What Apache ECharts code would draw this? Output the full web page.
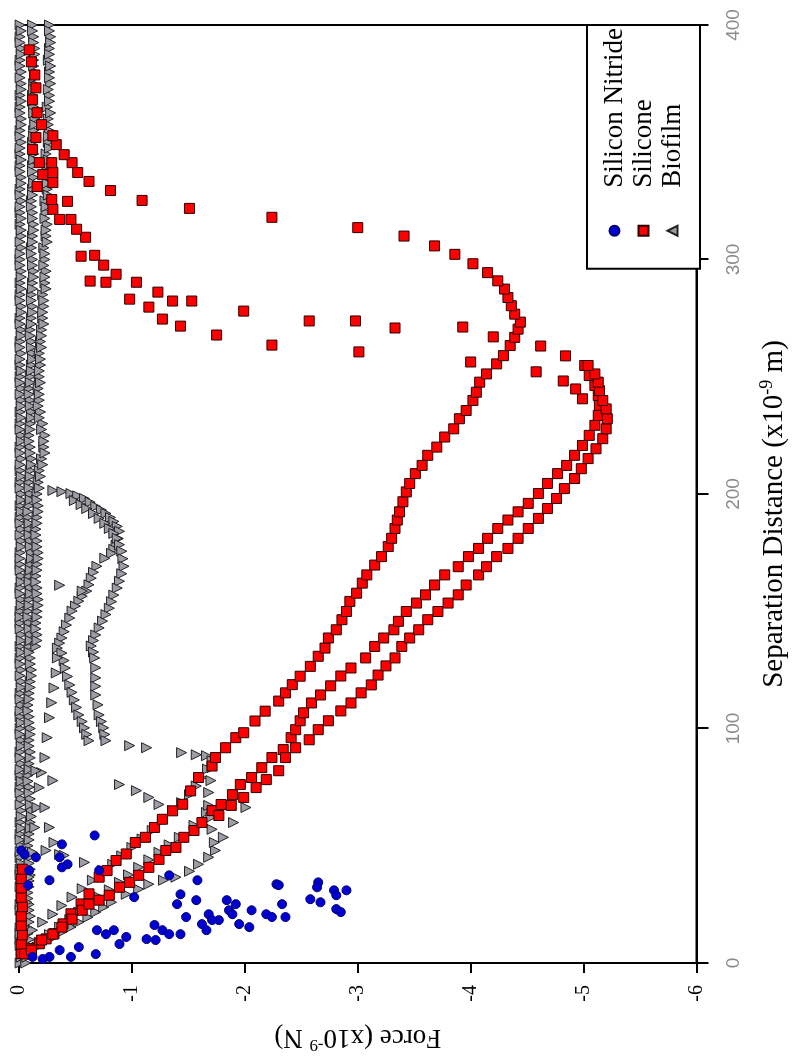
<!DOCTYPE html>
<html>
<head>
<meta charset="utf-8">
<script src="https://cdn.jsdelivr.net/npm/echarts/dist/echarts.min.js"></script>
<style>
html,body{margin:0;padding:0;width:794px;height:1061px;overflow:hidden;background:#fff;}
#wrap{position:absolute;left:0;top:0;width:1061px;height:794px;transform-origin:0 0;transform:translateY(1061px) rotate(-90deg);}
#chart{width:1061px;height:794px;}
</style>
</head>
<body>
<div id="wrap"><div id="chart"></div></div>
<script>
// ---------- axis ticks ----------
const distanceTicks = [0, 100, 200, 300, 400];
const forceTicks = [-6, -5, -4, -3, -2, -1, 0];
const seriesNames = ['Silicon Nitride', 'Silicone', 'Biofilm'];

// ---------- Silicon Nitride: [distance (nm), force (nN)] ----------
const nitridePoints = [
  [48.0,-0.02],[46.3,-0.05],[45.1,-0.15],[45.1,-0.36],[50.6,-0.38],[42.1,-0.43],[40.8,-0.38],[39.5,-0.09],
  [33.2,-0.08],[35.3,-0.27],[39.5,-0.71],[54.4,-0.67],[37.4,-1.33],[35.3,-1.58],[29.3,-1.43],[25.1,-1.40],
  [26.8,-1.57],[19.6,-1.48],[12.3,-1.43],[14.0,-1.27],[16.2,-1.20],[10.2,-1.13],[9.8,-1.21],[12.3,-1.33],
  [16.6,-1.62],[20.8,-1.68],[18.3,-1.77],[26.8,-1.84],[22.5,-1.86],[25.1,-1.92],[16.6,-1.95],[15.3,-2.04],
  [22.5,-2.06],[20.8,-2.19],[33.6,-2.28],[25.1,-2.33],[19.6,-2.36],[19.6,-2.24],[11.1,-0.95],[14.0,-0.84],
  [8.1,-0.89],[12.3,-0.77],[14.0,-0.69],[3.8,-0.68],[6.8,-0.53],[2.6,-0.46],[5.5,-0.36],[2.6,-0.27],
  [1.7,-0.21],[2.6,-0.12],[14.0,-1.66],[18.3,-1.71],[20.8,-1.89],[33.2,-2.30],[34.4,-2.65],[32.3,-2.64],
  [27.2,-2.58],[25.9,-2.67],[31.0,-2.79],[28.9,-2.81],[31.0,-2.90],[23.0,-2.81],[21.7,-2.85],[28.1,-1.02]
];

// ---------- Silicone ----------
const siliconeApproachInner = [
  [3.9,-0.05],[6.1,-0.11],[8.2,-0.18],[10.3,-0.24],[12.5,-0.31],[16.7,-0.39],[21.0,-0.46],[25.2,-0.55],
  [29.5,-0.62],[36.6,-0.71],[39.4,-0.78],[43.7,-0.86],[46.5,-0.95],[51.4,-1.03],[53.6,-1.12],[57.8,-1.20],
  [61.3,-1.27],[64.9,-1.36],[67.7,-1.45],[73.4,-1.52],[79.1,-1.59],[84.0,-1.71],[87.6,-1.74],[91.8,-1.83],
  [96.1,-1.92],[98.2,-1.99],[103.2,-2.09],[107.4,-2.18],[111.7,-2.30],[115.2,-2.36],[118.7,-2.42],[122.3,-2.49],
  [126.5,-2.58],[130.8,-2.65],[134.3,-2.71],[138.6,-2.74],[142.1,-2.81],[146.4,-2.86],[149.9,-2.90],[154.2,-2.93],
  [157.7,-2.99],[162.0,-3.04],[165.5,-3.08],[169.7,-3.15],[173.3,-3.21],[177.6,-3.27],[181.1,-3.30],[185.3,-3.33],
  [188.9,-3.35],[192.4,-3.37],[196.7,-3.40],[200.9,-3.43],[204.5,-3.46],[208.7,-3.51],[212.2,-3.57],[216.5,-3.62],
  [220.0,-3.70],[224.3,-3.77],[227.8,-3.85],[232.1,-3.90],[235.6,-3.96],[239.9,-4.02],[243.4,-4.05],[247.7,-4.08],
  [251.2,-4.14],[255.5,-4.23],[259.0,-4.29],[263.3,-4.35],[266.8,-4.39],[270.3,-4.42],[273.3,-4.44]
];
const siliconeRetractInner = [
  [276.7,-4.39],[280.3,-4.36],[283.8,-4.33],[287.4,-4.30],[290.9,-4.24],[294.4,-4.15],[298.2,-4.02],[302.2,-3.86],
  [305.8,-3.68],[310.0,-3.41],[313.6,-3.00],[318.0,-2.24],[321.8,-1.51],[325.2,-1.09],[329.4,-0.81],[333.3,-0.62],
  [337.1,-0.52],[341.3,-0.47],[344.7,-0.40],[349.0,-0.33],[352.8,-0.30]
];
const siliconeApproachOuterA = [
  [5.5,-0.11],[9.8,-0.20],[12.3,-0.30],[15.3,-0.38],[18.7,-0.47],[22.5,-0.56],[25.1,-0.62],[26.8,-0.71],
  [28.9,-0.80],[32.3,-0.89],[34.4,-0.98],[37.4,-1.06],[40.8,-1.15],[44.2,-1.24],[48.0,-1.30],[49.3,-1.39],
  [53.6,-1.46],[56.5,-1.55],[59.9,-1.62],[65.0,-1.71],[67.6,-1.79],[71.8,-1.89],[76.1,-1.96],[79.1,-2.06],
  [83.3,-2.15],[87.6,-2.24],[91.0,-2.34],[96.1,-2.41],[99.5,-2.45],[103.3,-2.49],[106.7,-2.52],[110.9,-2.59],
  [114.3,-2.67],[118.2,-2.76],[122.4,-2.85],[125.8,-2.94],[130.1,-3.07],[135.0,-3.15],[138.6,-3.23],[142.1,-3.32],
  [145.7,-3.36],[149.9,-3.43],[153.5,-3.52],[157.0,-3.60],[161.2,-3.68],[165.5,-3.77],[169.0,-3.89],[173.3,-3.98],
  [176.8,-4.07],[181.1,-4.15],[185.3,-4.24],[188.9,-4.33],[192.4,-4.42],[196.0,-4.51],[200.2,-4.60],[204.5,-4.68],
  [208.7,-4.77],[212.2,-4.85],[216.5,-4.92],[220.7,-4.99],[225.0,-5.05],[229.3,-5.10],[233.5,-5.13],[237.8,-5.14],
  [242.0,-5.13],[246.3,-5.10],[250.5,-5.05],[254.8,-5.01]
];
const siliconeApproachOuterB = [
  [62.9,-1.77],[67.2,-1.88],[70.6,-1.99],[74.8,-2.10],[78.2,-2.19],[82.0,-2.30],[87.6,-2.36],[91.8,-2.45],
  [95.2,-2.57],[99.5,-2.65],[103.3,-2.74],[107.5,-2.85],[110.9,-2.94],[115.2,-3.03],[118.6,-3.12],[122.8,-3.18],
  [126.7,-3.25],[130.1,-3.33],[135.0,-3.39],[138.6,-3.46],[142.1,-3.54],[146.4,-3.62],[149.9,-3.71],[153.5,-3.80],
  [157.0,-3.89],[161.2,-3.96],[165.5,-4.07],[169.0,-4.14],[173.3,-4.23],[176.8,-4.33],[181.1,-4.42],[185.3,-4.51],
  [189.6,-4.60],[193.8,-4.68],[198.1,-4.76],[202.3,-4.83],[206.6,-4.92],[210.8,-4.98],[215.1,-5.04],[219.3,-5.11],
  [223.6,-5.17],[227.8,-5.20],[232.1,-5.21],[236.3,-5.20],[239.9,-5.17],[244.1,-5.14],[247.7,-5.13],[251.2,-5.10],
  [254.8,-5.04]
];
const siliconeRetractOuterA = [
  [258.9,-4.84],[263.1,-4.62],[267.0,-4.20],[271.2,-3.93],[270.8,-3.33],[273.8,-2.98],[273.8,-2.57],[278.0,-1.99],
  [282.3,-1.53],[282.3,-1.36],[286.1,-1.23],[290.3,-1.04],[293.7,-0.86],[297.6,-0.75],[301.8,-0.67],[309.5,-0.59],
  [312.9,-0.51],[317.1,-0.36],[321.4,-0.30],[325.6,-0.29],[332.8,-0.30],[337.1,-0.30],[341.3,-0.29]
];
const siliconeRetractOuterB = [
  [240.6,-4.99],[244.8,-4.93],[248.2,-4.82],[252.1,-4.58],[256.3,-4.00],[260.6,-3.01],[263.5,-2.24],[267.8,-1.75],
  [271.6,-1.43],[274.6,-1.27],[279.7,-1.15],[283.1,-0.98],[290.3,-0.77],[290.8,-0.63],[301.4,-0.55],[317.1,-0.46],
  [324.8,-0.43]
];
const siliconeNearZero = [
  [4,-0.02],[8,-0.02],[12,-0.03],[16,-0.02],[20,-0.02],[24,-0.03],[28,-0.02],[32,-0.02],[36,-0.02],[40,-0.03],
  [331.1,-0.16],[336.2,-0.21],[341.3,-0.18],[346.9,-0.12],[352.0,-0.15],[357.5,-0.20],[362.6,-0.16],[368.1,-0.12],
  [373.2,-0.15],[378.7,-0.14],[384.3,-0.11],[389.4,-0.09]
];

// ---------- Biofilm ----------
const bandDist = [0,5,10,15,20,25,30,35,40,45,50,55,60,65,70,75,80,85,90,95,100,105,110,115,120,125,130,135,140,145,
  150,155,160,165,170,175,180,185,190,195,200,205,210,215,220,225,230,235,240,245,250,255,260,265,270,275,280,285,290,295,
  300,305,310,315,320,325,330,335,340,345,350,355,360,365,370,375,380,385,390,395,400];
const bandAForce = [-0.01,-0.02,-0.01,-0.01,-0.02,-0.01,-0.02,-0.02,-0.01,-0.01,
  -0.02,-0.01,-0.01,-0.02,-0.02,-0.01,-0.01,-0.02,-0.01,-0.02,
  -0.01,-0.01,-0.02,-0.01,-0.02,-0.02,-0.01,-0.01,-0.02,-0.01,
  -0.01,-0.02,-0.01,-0.02,-0.01,-0.01,-0.02,-0.02,-0.01,-0.01,
  -0.02,-0.01,-0.01,-0.02,-0.01,-0.02,-0.01,-0.01,-0.02,-0.02,
  -0.01,-0.01,-0.02,-0.01,-0.02,-0.01,-0.02,-0.01,-0.01,-0.02,
  -0.01,-0.02,-0.02,-0.01,-0.01,-0.02,-0.01,-0.02,-0.01,-0.01,
  -0.02,-0.01,-0.02,-0.01,-0.01,-0.02,-0.02,-0.01,-0.02,-0.01,-0.01];
const bandBForce = [-0.06,-0.08,-0.09,-0.08,-0.10,-0.09,-0.08,-0.09,-0.10,-0.09,
  -0.08,-0.09,-0.10,-0.11,-0.10,-0.09,-0.08,-0.09,-0.10,-0.09,
  -0.10,-0.09,-0.08,-0.09,-0.10,-0.11,-0.10,-0.09,-0.10,-0.09,
  -0.08,-0.09,-0.10,-0.09,-0.10,-0.11,-0.10,-0.09,-0.08,-0.09,
  -0.10,-0.09,-0.10,-0.11,-0.10,-0.09,-0.10,-0.11,-0.10,-0.09,
  -0.10,-0.11,-0.12,-0.11,-0.10,-0.11,-0.12,-0.11,-0.12,-0.13,
  -0.12,-0.11,-0.12,-0.13,-0.12,-0.11,-0.12,-0.13,-0.12,-0.13,
  -0.12,-0.13,-0.14,-0.13,-0.12,-0.13,-0.14,-0.13,-0.14,-0.13,-0.12];
const bandMidDist = [2.5,7.5,12.5,17.5,22.5,27.5,32.5,37.5,42.5,47.5,52.5,57.5,62.5,67.5,72.5,77.5,82.5,87.5,92.5,97.5,
  102.5,107.5,112.5,117.5,122.5,127.5,132.5,137.5,142.5,147.5,152.5,157.5,162.5,167.5,172.5,177.5,182.5,187.5,192.5,197.5,
  202.5,207.5,212.5,217.5,222.5,227.5,232.5,237.5,242.5,247.5,252.5,257.5,262.5,267.5,272.5,277.5,282.5,287.5,292.5,297.5,
  302.5,307.5,312.5,317.5,322.5,327.5,332.5,337.5,342.5,347.5,352.5,357.5,362.5,367.5,372.5,377.5,382.5,387.5,392.5,397.5];
const bandAMidForce = [-0.02,-0.01,-0.01,-0.02,-0.01,-0.02,-0.01,-0.01,-0.02,-0.01,
  -0.01,-0.02,-0.02,-0.01,-0.01,-0.02,-0.01,-0.01,-0.02,-0.01,
  -0.02,-0.01,-0.01,-0.02,-0.01,-0.01,-0.02,-0.02,-0.01,-0.01,
  -0.02,-0.01,-0.02,-0.01,-0.01,-0.02,-0.01,-0.01,-0.02,-0.02,
  -0.01,-0.02,-0.01,-0.01,-0.02,-0.01,-0.02,-0.02,-0.01,-0.01,
  -0.02,-0.01,-0.01,-0.02,-0.01,-0.02,-0.01,-0.02,-0.02,-0.01,
  -0.01,-0.01,-0.02,-0.02,-0.01,-0.01,-0.02,-0.01,-0.02,-0.01,
  -0.01,-0.02,-0.01,-0.02,-0.02,-0.01,-0.01,-0.02,-0.01,-0.02];
const bandBMidForce = [-0.07,-0.09,-0.08,-0.09,-0.09,-0.08,-0.09,-0.10,-0.09,-0.10,
  -0.09,-0.10,-0.11,-0.10,-0.09,-0.08,-0.09,-0.10,-0.09,-0.10,
  -0.09,-0.08,-0.09,-0.10,-0.11,-0.10,-0.09,-0.10,-0.09,-0.08,
  -0.09,-0.10,-0.09,-0.10,-0.11,-0.10,-0.09,-0.09,-0.08,-0.10,
  -0.09,-0.10,-0.11,-0.10,-0.09,-0.10,-0.11,-0.10,-0.09,-0.10,
  -0.11,-0.12,-0.11,-0.10,-0.11,-0.12,-0.11,-0.12,-0.13,-0.12,
  -0.11,-0.12,-0.13,-0.12,-0.11,-0.12,-0.13,-0.12,-0.13,-0.12,
  -0.13,-0.14,-0.13,-0.12,-0.13,-0.14,-0.13,-0.14,-0.13,-0.12];
const bandCDist = [135,140,145,150,155,160,165,170,175,180,185,190,195,200,205,210,215,220,225,230,235,240,245,250,
  255,260,265,270,275,280,285,290,295,300,305,310,315,320,325,330,335,340,345,350,355,360,365,370,375,380,385,390,395,400];
const bandCForce = [-0.15,-0.16,-0.15,-0.16,-0.17,-0.16,-0.15,-0.16,-0.17,-0.16,-0.15,-0.16,-0.17,-0.16,
  -0.17,-0.18,-0.20,-0.22,-0.23,-0.21,-0.19,-0.18,-0.17,-0.18,-0.19,-0.18,-0.19,-0.20,
  -0.21,-0.22,-0.21,-0.23,-0.24,-0.23,-0.22,-0.24,-0.25,-0.24,-0.23,-0.25,-0.26,-0.25,
  -0.24,-0.26,-0.27,-0.26,-0.25,-0.27,-0.28,-0.27,-0.26,-0.27,-0.28,-0.27];
const bandCMidDist = [137.5,142.5,147.5,152.5,157.5,162.5,167.5,172.5,177.5,182.5,187.5,192.5,197.5,202.5,207.5,212.5,
  217.5,222.5,227.5,232.5,237.5,242.5,247.5,252.5,257.5,262.5,267.5,272.5,277.5,282.5,287.5,292.5,297.5,302.5,307.5,
  312.5,317.5,322.5,327.5,332.5,337.5,342.5,347.5,352.5,357.5,362.5,367.5,372.5,377.5,382.5,387.5,392.5,397.5];
const bandCMidForce = [-0.16,-0.15,-0.16,-0.17,-0.16,-0.15,-0.16,-0.17,-0.16,-0.15,-0.16,-0.17,-0.16,
  -0.18,-0.19,-0.21,-0.23,-0.22,-0.20,-0.18,-0.17,-0.18,-0.19,-0.18,-0.19,-0.20,-0.20,
  -0.22,-0.21,-0.22,-0.24,-0.23,-0.22,-0.23,-0.25,-0.24,-0.23,-0.24,-0.26,-0.25,
  -0.25,-0.26,-0.27,-0.26,-0.26,-0.28,-0.27,-0.26,-0.27,-0.28,-0.27,-0.28,-0.27];
const biofilmLoopA = [
  [201.5,-0.30],[201.0,-0.38],[200.2,-0.46],[199.2,-0.52],[198.1,-0.58],[196.5,-0.63],[194.7,-0.68],[193.2,-0.73],
  [191.7,-0.77],[190.0,-0.81],[188.3,-0.84],[186.2,-0.87],[184.1,-0.89],[181.0,-0.88],[178.1,-0.86],[176.4,-0.84],
  [174.7,-0.82],[172.6,-0.76],[169.2,-0.69],[166.6,-0.66],[164.1,-0.64],[161.3,-0.62],[158.6,-0.60],[156.4,-0.56],
  [154.3,-0.53],[152.2,-0.50],[150.1,-0.47],[147.1,-0.45],[144.1,-0.42],[141.3,-0.40],[138.6,-0.38],[136.4,-0.36],
  [134.3,-0.34],[132.2,-0.38],[129.0,-0.40],[125.8,-0.41],[122.2,-0.43],[118.6,-0.45],[115.4,-0.47],[112.2,-0.49],
  [109.0,-0.51],[105.8,-0.53],[103.0,-0.56],[100.3,-0.58],[97.5,-0.60],[94.8,-0.62]
];
const biofilmLoopB = [
  [197.2,-0.49],[195.5,-0.55],[193.8,-0.60],[191.7,-0.66],[189.6,-0.71],[187.5,-0.76],[185.3,-0.80],[183.2,-0.84],
  [181.1,-0.87],[178.4,-0.89],[175.6,-0.91],[172.4,-0.92],[169.2,-0.93],[166.0,-0.91],[162.8,-0.89],[159.9,-0.87],
  [156.9,-0.84],[154.1,-0.82],[151.3,-0.80],[148.6,-0.77],[145.8,-0.74],[142.9,-0.71],[139.9,-0.68],[137.5,-0.66],
  [135.2,-0.64],[132.6,-0.66],[130.1,-0.67],[125.9,-0.68],[121.6,-0.68],[118.0,-0.68],[114.3,-0.68],[110.1,-0.70],
  [105.8,-0.71],[103.0,-0.73],[100.3,-0.75],[97.5,-0.76],[94.8,-0.77]
];
const biofilmJump = [
  [92.7,-0.98],[91.8,-1.13],[89.7,-1.44],[88.8,-1.57],[88.4,-1.66],[161.1,-0.36],[158.6,-0.56],
  [77.8,-0.30],[76.1,-0.89],[73.5,-1.04],[70.6,-1.15],[67.6,-1.24]
];
const biofilmDiagUpper = [
  [14.0,-0.12],[17.4,-0.21],[20.8,-0.30],[24.5,-0.38],[28.1,-0.47],[31.7,-0.56],[35.3,-0.65],[38.7,-0.74],
  [42.1,-0.83],[45.7,-0.91],[49.3,-1.00],[52.9,-1.09],[56.5,-1.18],[60.7,-1.27],[65.0,-1.36],[68.4,-1.44],
  [71.8,-1.51],[75.5,-1.57],[79.1,-1.62],[82.7,-1.67],[86.3,-1.71]
];
const biofilmDiagMiddle = [
  [8.9,-0.18],[12.1,-0.27],[15.3,-0.36],[18.5,-0.45],[21.7,-0.53],[24.9,-0.62],[28.1,-0.71],[31.2,-0.80],
  [34.4,-0.89],[37.6,-0.97],[40.8,-1.06],[44.0,-1.15],[47.2,-1.24],[50.4,-1.33],[53.6,-1.42],[58.7,-1.55],
  [64.2,-1.66]
];
const biofilmDiagLower = [
  [4.7,-0.09],[6.8,-0.16],[8.9,-0.23],[11.0,-0.31],[13.2,-0.38],[15.3,-0.46],[17.4,-0.53],[19.5,-0.61],
  [21.7,-0.68],[23.8,-0.75],[25.9,-0.82],[29.3,-0.95],[31.5,-1.06],[33.6,-1.15],[35.3,-1.28],[36.6,-1.39],
  [39.1,-1.51],[42.1,-1.59],[45.1,-1.68],[48.0,-1.74],[53.6,-1.81],[59.9,-1.90],[66.3,-2.01]
];
const biofilmTurn = [
  [51.4,-1.73],[57.0,-1.71],[62.1,-1.70],[67.2,-1.68],[72.7,-1.68],[77.8,-1.70],[83.3,-1.71]
];
const biofilmUpperLeft = [
  [15.3,-0.05],[25.9,-0.07],[36.6,-0.09],[47.2,-0.12],[57.8,-0.14],[66.3,-0.16],[74.8,-0.18],[81.2,-0.20],
  [87.6,-0.23],[96.1,-0.25],[104.6,-0.27],[111.0,-0.29],[117.3,-0.31],[123.7,-0.33],[130.1,-0.34],
  [82.0,-0.15],[66.3,-0.23],[57.8,-0.27],[51.4,-0.31],[46.3,-0.36],
  [48.0,-0.24],[45.9,-0.40],[42.9,-0.58],[39.5,-0.74]
];

const pairs = (ds, fs) => ds.map((d, i) => [d, fs[i]]);

const nitrideData = nitridePoints;
const siliconeData = [].concat(siliconeNearZero, siliconeApproachInner, siliconeRetractInner,
  siliconeApproachOuterA, siliconeApproachOuterB, siliconeRetractOuterA, siliconeRetractOuterB);
const biofilmData = [].concat(
  pairs(bandDist, bandAForce), pairs(bandMidDist, bandAMidForce),
  pairs(bandDist, bandBForce), pairs(bandMidDist, bandBMidForce),
  pairs(bandCDist, bandCForce), pairs(bandCMidDist, bandCMidForce),
  biofilmLoopA, biofilmLoopB, biofilmJump, biofilmDiagUpper, biofilmDiagMiddle, biofilmDiagLower,
  biofilmTurn, biofilmUpperLeft);

const serif = '"Liberation Serif", "Times New Roman", serif';
const sans = '"Liberation Sans", Arial, sans-serif';

const chart = echarts.init(document.getElementById('chart'), null, {renderer: 'canvas', width: 1061, height: 794});
chart.setOption({
  animation: false,
  backgroundColor: '#fff',
  grid: {left: 95, right: 25, top: 19, bottom: 95, show: true, borderColor: '#000', borderWidth: 2, backgroundColor: 'transparent'},
  xAxis: {
    type: 'value', min: distanceTicks[0], max: distanceTicks[distanceTicks.length - 1], interval: 100,
    position: 'bottom',
    axisLine: {show: true, onZero: false, lineStyle: {color: '#000', width: 2}},
    axisTick: {show: true, inside: false, length: 12, lineStyle: {color: '#000', width: 2}},
    axisLabel: {color: '#8a8a8a', fontFamily: sans, fontSize: 19, margin: 28},
    splitLine: {show: false},
    name: '{a|Separation Distance (x10}{b|-9}{a| m)}',
    nameLocation: 'middle', nameGap: 62,
    nameTextStyle: {
      padding: [0, 40, 0, 0],
      rich: {
        a: {fontFamily: serif, fontSize: 29, color: '#000', lineHeight: 32},
        b: {fontFamily: serif, fontSize: 18, color: '#000', lineHeight: 18, verticalAlign: 'top'}
      }
    }
  },
  yAxis: {
    type: 'value', min: forceTicks[0], max: forceTicks[forceTicks.length - 1], interval: 1,
    axisLine: {show: true, onZero: false, lineStyle: {color: '#000', width: 2}},
    axisTick: {show: true, inside: false, length: 10, lineStyle: {color: '#000', width: 2}},
    axisLabel: {color: '#000', fontFamily: serif, fontSize: 20, margin: 22},
    splitLine: {show: false},
    name: '{a|Force (x10}{b|-9}{a| N)}',
    nameLocation: 'middle', nameGap: 58, nameRotate: 90,
    nameTextStyle: {
      rich: {
        a: {fontFamily: serif, fontSize: 27, color: '#000', lineHeight: 32},
        b: {fontFamily: serif, fontSize: 17, color: '#000', lineHeight: 18, verticalAlign: 'top'}
      }
    }
  },
  legend: {
    data: seriesNames,
    orient: 'vertical', right: 25, bottom: 94,
    backgroundColor: '#fff', borderColor: '#000', borderWidth: 2, borderRadius: 0,
    padding: [14, 3, 14, 32],
    itemWidth: 10, itemHeight: 10, itemGap: 2,
    formatter: name => '{s|}{t|' + name + '}',
    textStyle: {
      rich: {
        s: {width: 33},
        t: {fontFamily: serif, fontSize: 27, color: '#000', lineHeight: 28}
      }
    },
    selectedMode: false,
    z: 10
  },
  series: [
    {
      name: seriesNames[2], type: 'scatter', z: 2, symbol: 'triangle', symbolRotate: 180, symbolSize: 10,
      itemStyle: {color: '#9d9da6', borderColor: '#222', borderWidth: 1, opacity: 1},
      emphasis: {disabled: true}, data: biofilmData
    },
    {
      name: seriesNames[1], type: 'scatter', z: 3, symbol: 'rect', symbolSize: 10,
      itemStyle: {color: '#ff0000', borderColor: '#2a0000', borderWidth: 1, opacity: 1},
      emphasis: {disabled: true}, data: siliconeData
    },
    {
      name: seriesNames[0], type: 'scatter', z: 4, symbol: 'circle', symbolSize: 9,
      itemStyle: {color: '#0000d0', borderColor: '#000070', borderWidth: 1, opacity: 1},
      emphasis: {disabled: true}, data: nitrideData
    }
  ]
});
</script>
</body>
</html>
